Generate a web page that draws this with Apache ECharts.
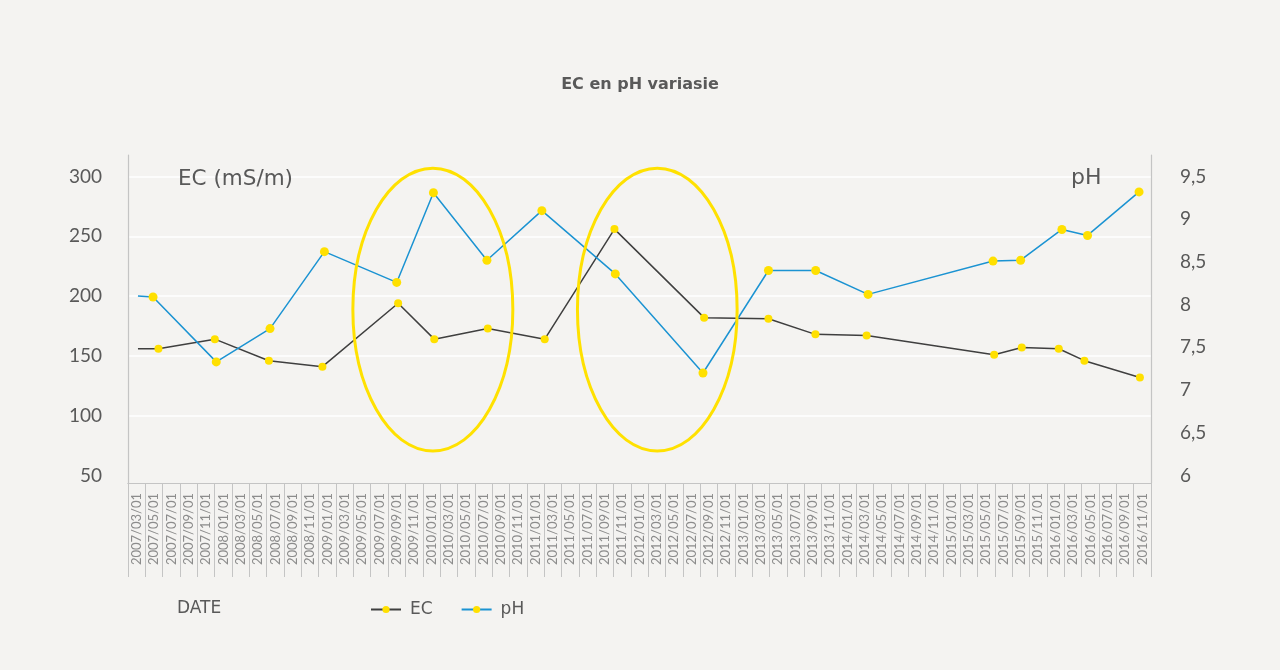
<!DOCTYPE html>
<html>
<head>
<meta charset="utf-8">
<script src="https://cdn.jsdelivr.net/npm/echarts@6/dist/echarts.min.js"></script>
<style>
html,body{margin:0;padding:0;background:#f4f3f1;}
#chart{width:1280px;height:670px;}
</style>
</head>
<body>
<div id="chart"></div>
<script>
// ---- data ----
var categories = ['2007/03/01','2007/05/01','2007/07/01','2007/09/01','2007/11/01','2008/01/01','2008/03/01','2008/05/01','2008/07/01','2008/09/01','2008/11/01','2009/01/01','2009/03/01','2009/05/01','2009/07/01','2009/09/01','2009/11/01','2010/01/01','2010/03/01','2010/05/01','2010/07/01','2010/09/01','2010/11/01','2011/01/01','2011/03/01','2011/05/01','2011/07/01','2011/09/01','2011/11/01','2012/01/01','2012/03/01','2012/05/01','2012/07/01','2012/09/01','2012/11/01','2013/01/01','2013/03/01','2013/05/01','2013/07/01','2013/09/01','2013/11/01','2014/01/01','2014/03/01','2014/05/01','2014/07/01','2014/09/01','2014/11/01','2015/01/01','2015/03/01','2015/05/01','2015/07/01','2015/09/01','2015/11/01','2016/01/01','2016/03/01','2016/05/01','2016/07/01','2016/09/01','2016/11/01'];
var axisStart = '2007-03-01';
var axisEnd = '2017-01-01';

var ecDates = ['2007-04-05','2007-06-16','2007-12-31','2008-07-08','2009-01-12','2009-10-05','2010-02-09','2010-08-16','2011-03-04','2011-11-04','2012-09-14','2013-04-28','2013-10-10','2014-04-08','2015-06-30','2015-10-05','2016-02-12','2016-05-12','2016-11-23'];
var ecValues = [156, 156, 164, 146, 141, 194, 164, 173, 164, 256, 182, 181, 168, 167, 151, 157, 156, 146, 132];

var phDates = ['2007-04-05','2007-05-28','2008-01-05','2008-07-12','2009-01-19','2009-09-30','2010-02-06','2010-08-13','2011-02-22','2011-11-07','2012-09-10','2013-04-28','2013-10-11','2014-04-13','2015-06-26','2015-10-01','2016-02-23','2016-05-23','2016-11-20'];
var phValues = [8.10, 8.09, 7.33, 7.72, 8.62, 8.26, 9.31, 8.52, 9.10, 8.36, 7.20, 8.40, 8.40, 8.12, 8.51, 8.52, 8.88, 8.81, 9.32];

var ecTicks = [50, 300, 50];      // min, max, step
var phTicks = [6, 9.5, 0.5];

// highlighted periods (annotation ellipses), in dates and EC units
var highlightFrom = ['2009-04-29', '2011-06-27'];
var highlightTo = ['2010-11-12', '2013-01-08'];
var highlightLow = 70.5;
var highlightHigh = 307;

function toTime(s){ var p = s.split('-'); return new Date(+p[0], +p[1]-1, +p[2]).getTime(); }
function pairs(dates, vals){
  return dates.map(function(d, i){
    var item = {value: [toTime(d), vals[i]]};
    if (i === 0) item.symbol = 'none';
    return item;
  });
}

var textColor = '#595959';
var frameColor = '#c4c4c4';
var font = 'Lato, "Noto Sans", sans-serif';
var wideFont = '"DejaVu Sans", Lato, sans-serif';

var chart = echarts.init(document.getElementById('chart'));
var option = {
  backgroundColor: '#f4f3f1',
  animation: false,
  textStyle: {fontFamily: font},
  title: [
    {text: 'EC en pH variasie', left: 'center', top: 77, padding: 0,
     textStyle: {fontSize: 16, fontWeight: 'bold', color: textColor, fontFamily: wideFont}},
    {text: 'EC (mS/m)', left: 178, top: 168, padding: 0,
     textStyle: {fontSize: 21.5, fontWeight: 'normal', color: textColor, fontFamily: wideFont}},
    {text: 'pH', left: 1071, top: 167, padding: 0,
     textStyle: {fontSize: 22, fontWeight: 'normal', color: textColor, fontFamily: wideFont}},
    {text: 'DATE', left: 177, top: 600, padding: 0,
     textStyle: {fontSize: 17, fontWeight: 'normal', color: textColor, fontFamily: wideFont}}
  ],
  legend: {
    left: 370, top: 601, padding: 0,
    itemWidth: 30, itemHeight: 9, itemGap: 28,
    textStyle: {fontSize: 17, color: textColor, fontFamily: wideFont, padding: [0, 0, 0, 4]},
    data: ['EC', 'pH']
  },
  grid: [
    {left: 128, top: 176.5, width: 1023, height: 299},
    {left: 128, top: 155, width: 1023, height: 328}
  ],
  xAxis: [
    {type: 'time', gridIndex: 0, min: toTime(axisStart), max: toTime(axisEnd), show: false},
    {type: 'category', gridIndex: 1, data: categories, boundaryGap: true, position: 'bottom',
     axisLine: {show: true, lineStyle: {color: frameColor, width: 1}},
     axisTick: {show: true, interval: 0, length: 94, lineStyle: {color: frameColor, width: 1}},
     axisLabel: {interval: 0, rotate: 90, margin: 10, fontSize: 13, color: '#8c8c8c', fontFamily: font},
     splitLine: {show: false}},
    {type: 'category', gridIndex: 1, data: categories, boundaryGap: true, position: 'bottom', offset: 94,
     axisLine: {show: true, lineStyle: {color: frameColor, width: 1}},
     axisTick: {show: false}, axisLabel: {show: false}, splitLine: {show: false}}
  ],
  yAxis: [
    {type: 'value', gridIndex: 0, position: 'left', min: ecTicks[0], max: ecTicks[1], interval: ecTicks[2],
     axisLine: {show: false}, axisTick: {show: false},
     axisLabel: {margin: 26, fontSize: 19, color: textColor, fontFamily: font},
     splitLine: {show: true, showMinLine: false, lineStyle: {color: '#ffffff', width: 1.5}}},
    {type: 'value', gridIndex: 0, position: 'right', min: phTicks[0], max: phTicks[1], interval: phTicks[2],
     axisLine: {show: false}, axisTick: {show: false},
     axisLabel: {margin: 29, fontSize: 19, color: textColor, fontFamily: font,
       formatter: function(v){ return String(v).replace('.', ','); }},
     splitLine: {show: false}},
    {type: 'value', gridIndex: 1, position: 'left', min: 0, max: 1,
     axisLine: {show: true, lineStyle: {color: frameColor, width: 1.2}},
     axisTick: {show: false}, axisLabel: {show: false}, splitLine: {show: false}},
    {type: 'value', gridIndex: 1, position: 'right', min: 0, max: 1,
     axisLine: {show: true, lineStyle: {color: frameColor, width: 1.2}},
     axisTick: {show: false}, axisLabel: {show: false}, splitLine: {show: false}}
  ],
  series: [
    {name: 'EC', type: 'line', xAxisIndex: 0, yAxisIndex: 0,
     data: pairs(ecDates, ecValues),
     symbol: 'circle', symbolSize: 8, showSymbol: true,
     lineStyle: {color: '#3f3f3f', width: 1.5},
     itemStyle: {color: '#ffe000', borderWidth: 0}, z: 3},
    {name: 'pH', type: 'line', xAxisIndex: 0, yAxisIndex: 1,
     data: pairs(phDates, phValues),
     symbol: 'circle', symbolSize: 9, showSymbol: true,
     lineStyle: {color: '#1b93d2', width: 1.5},
     itemStyle: {color: '#ffe000', borderWidth: 0}, z: 3}
  ]
};
chart.setOption(option);

// annotation ellipses placed through the chart's own coordinate system
var graphics = [];
for (var i = 0; i < highlightFrom.length; i++) {
  var p1 = chart.convertToPixel({xAxisIndex: 0, yAxisIndex: 0}, [toTime(highlightFrom[i]), highlightHigh]);
  var p2 = chart.convertToPixel({xAxisIndex: 0, yAxisIndex: 0}, [toTime(highlightTo[i]), highlightLow]);
  graphics.push({
    type: 'ellipse', z: 100,
    shape: {cx: (p1[0] + p2[0]) / 2, cy: (p1[1] + p2[1]) / 2,
            rx: Math.abs(p2[0] - p1[0]) / 2, ry: Math.abs(p2[1] - p1[1]) / 2},
    style: {fill: null, stroke: '#ffe100', lineWidth: 3}
  });
}
chart.setOption({graphic: graphics});
</script>
</body>
</html>
